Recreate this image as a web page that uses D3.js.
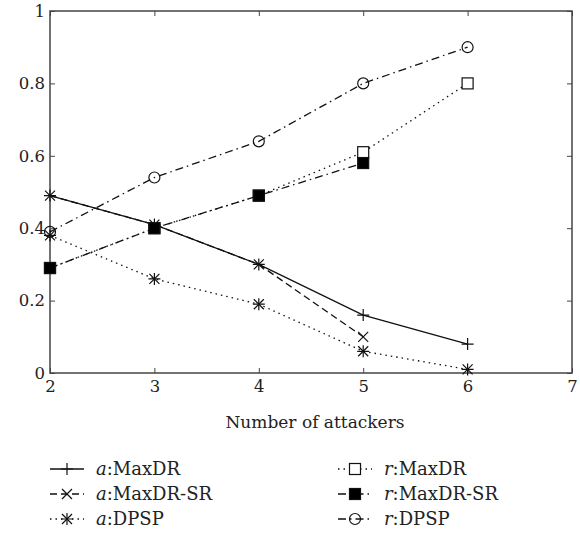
<!DOCTYPE html>
<html>
<head>
<meta charset="utf-8">
<script src="https://cdn.jsdelivr.net/npm/d3@7"></script>
<style>
  body { margin: 0; background: #fff; }
  svg text { font-family: "DejaVu Serif", serif !important; fill: #222; }
</style>
</head>
<body>
<div id="chart"></div>
<script>
/* DATA */
const attackers = [2, 3, 4, 5, 6]
const xTicks = [2, 3, 4, 5, 6, 7]
const yTicks = [0, 0.2, 0.4, 0.6, 0.8, 1]

const aMaxDR = [0.49, 0.41, 0.30, 0.16, 0.08]
const aMaxDRSR = [0.49, 0.41, 0.30, 0.10]
const aDPSP = [0.38, 0.26, 0.19, 0.06, 0.01]
const rMaxDR = [0.29, 0.40, 0.49, 0.61, 0.80]
const rMaxDRSR = [0.29, 0.40, 0.49, 0.58]
const rDPSP = [0.39, 0.54, 0.64, 0.80, 0.90]

const seriesNames = ["a:MaxDR", "a:MaxDR-SR", "a:DPSP", "r:MaxDR", "r:MaxDR-SR", "r:DPSP"]

/* CONSTANTS */
const width = 580
const height = 533
const margin = { top: 11, bottom: 160, left: 50, right: 8 }
const fontSize = "16.5px"
const legendFont = "18px"

// style per series (dash + marker)
const styles = {
  "a:MaxDR": { dash: null, marker: "plus" },
  "a:MaxDR-SR": { dash: "7,4", marker: "cross" },
  "a:DPSP": { dash: "1.5,4", marker: "star" },
  "r:MaxDR": { dash: "1.5,4", marker: "square" },
  "r:MaxDR-SR": { dash: "8,4,1.5,4", marker: "filled" },
  "r:DPSP": { dash: "8,4,1.5,4", marker: "circle" }
}

const series = [
  { name: "a:MaxDR", values: aMaxDR },
  { name: "a:MaxDR-SR", values: aMaxDRSR },
  { name: "a:DPSP", values: aDPSP },
  { name: "r:MaxDR", values: rMaxDR },
  { name: "r:MaxDR-SR", values: rMaxDRSR },
  { name: "r:DPSP", values: rDPSP }
].map(s => ({ name: s.name, values: s.values.map((v, i) => ({ x: attackers[i], y: v })) }))

/* SCALES */
const xScale = d3.scaleLinear()
  .domain([2, 7])
  .range([margin.left, width - margin.right])

const yScale = d3.scaleLinear()
  .domain([0, 1])
  .range([height - margin.bottom, margin.top])

const svg = d3.select("#chart")
  .append("svg")
  .attr("width", width)
  .attr("height", height)

/* AXES */
const axisColor = "#444"
const x0 = xScale.range()[0], x1 = xScale.range()[1]
const y0 = yScale.range()[0], y1 = yScale.range()[1]

const xAxis = svg.append("g")
  .attr("transform", `translate(0, ${y0})`)
  .call(d3.axisBottom(xScale).tickValues(xTicks).tickSize(-5).tickPadding(7).tickFormat(d3.format("d")))
xAxis.attr("font-family", null)
xAxis.select(".domain").remove()
xAxis.selectAll("text").style("font-size", fontSize).attr("fill", "#222")
xAxis.selectAll("line").attr("stroke", axisColor)

const yAxis = svg.append("g")
  .attr("transform", `translate(${x0}, 0)`)
  .call(d3.axisLeft(yScale).tickValues(yTicks).tickSize(-5).tickPadding(5).tickFormat(d => d === 0 || d === 1 ? d3.format("d")(d) : d3.format(".1f")(d)))
yAxis.attr("font-family", null)
yAxis.select(".domain").remove()
yAxis.selectAll("text").style("font-size", fontSize).attr("fill", "#222")
yAxis.selectAll("line").attr("stroke", axisColor)

// ticks on top and right
svg.append("g")
  .attr("transform", `translate(0, ${y1})`)
  .call(d3.axisTop(xScale).tickValues(xTicks).tickSize(-5).tickFormat(""))
  .call(g => g.select(".domain").remove())
  .selectAll("line").attr("stroke", axisColor)
svg.append("g")
  .attr("transform", `translate(${x1}, 0)`)
  .call(d3.axisRight(yScale).tickValues(yTicks).tickSize(-5).tickFormat(""))
  .call(g => g.select(".domain").remove())
  .selectAll("line").attr("stroke", axisColor)

// frame
svg.append("rect")
  .attr("x", x0).attr("y", y1)
  .attr("width", x1 - x0).attr("height", y0 - y1)
  .attr("fill", "none")
  .attr("stroke", axisColor)
  .attr("stroke-width", 1.5)

svg.append("text")
  .attr("x", (x0 + x1) / 2 + 4)
  .attr("y", y0 + 55)
  .attr("text-anchor", "middle")
  .style("font-size", "17px")
  .text("Number of attackers")

/* MARKERS */
function drawMarker(g, type, cx, cy) {
  const m = g.append("g").attr("transform", `translate(${cx},${cy})`)
  const stroke = "#111"
  if (type === "plus" || type === "star") {
    m.append("path").attr("d", "M-6,0H6M0,-6V6").attr("stroke", stroke).attr("stroke-width", 1.2).attr("fill", "none")
  }
  if (type === "cross" || type === "star") {
    m.append("path").attr("d", "M-5,-5L5,5M-5,5L5,-5").attr("stroke", stroke).attr("stroke-width", 1.2).attr("fill", "none")
  }
  if (type === "square" || type === "filled") {
    m.append("rect").attr("x", -5.5).attr("y", -5.5).attr("width", 11).attr("height", 11)
      .attr("fill", type === "filled" ? "#000" : "#fff").attr("stroke", stroke).attr("stroke-width", 1.2)
  }
  if (type === "circle") {
    m.append("circle").attr("r", 5.5).attr("fill", "none").attr("stroke", stroke).attr("stroke-width", 1.2)
  }
}

/* LINES */
const line = d3.line()
  .x(d => xScale(d.x))
  .y(d => yScale(d.y))

svg.selectAll(".series")
  .data(series)
  .join("path")
    .attr("class", "series")
    .attr("d", d => line(d.values))
    .attr("fill", "none")
    .attr("stroke", "#111")
    .attr("stroke-width", 1.3)
    .attr("stroke-dasharray", d => styles[d.name].dash)

series.forEach(s => {
  const g = svg.append("g")
  s.values.forEach(v => drawMarker(g, styles[s.name].marker, xScale(v.x), yScale(v.y)))
})

/* LEGEND */
const legendX = [50, 338]
const legendY = [469, 494, 519]
seriesNames.forEach((name, i) => {
  const col = Math.floor(i / 3), row = i % 3
  const lx = legendX[col], ly = legendY[row]
  const g = svg.append("g")
  g.append("line")
    .attr("x1", lx).attr("x2", lx + 34)
    .attr("y1", ly).attr("y2", ly)
    .attr("stroke", "#111")
    .attr("stroke-width", 1.3)
    .attr("stroke-dasharray", styles[name].dash)
  drawMarker(g, styles[name].marker, lx + 17, ly)
  const parts = name.split(":")
  const t = g.append("text")
    .attr("x", lx + 46)
    .attr("y", ly + 6)
    .style("font-size", legendFont)
  t.append("tspan").style("font-style", "italic").text(parts[0])
  t.append("tspan").text(":" + parts[1])
})
</script>
</body>
</html>
